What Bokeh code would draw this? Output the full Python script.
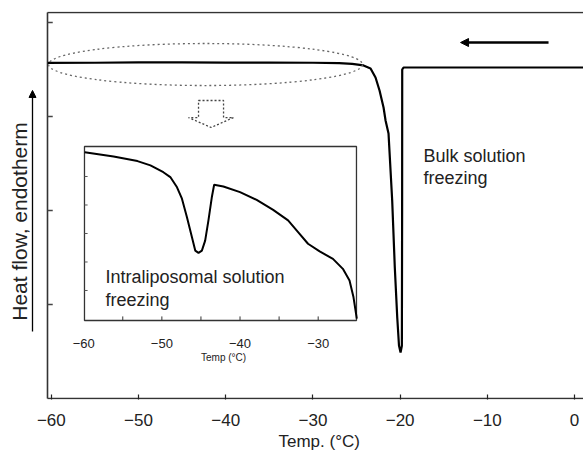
import math
from bokeh.plotting import figure
from bokeh.models import Range1d, Label, Arrow, NormalHead, FixedTicker, Title
from bokeh.embed import file_html
from bokeh.resources import INLINE
from bokeh.core.properties import value

# ---------------- data ----------------
# Main DSC cooling trace (Temp °C, heat flow arbitrary units)
main_temp = [-60.4, -55.0, -50.0, -45.0, -40.0, -35.0, -30.0, -27.0, -25.5, -24.2,
             -23.39, -22.82, -22.36, -21.90, -21.67, -21.33, -20.91, -20.61, -20.33,
             -20.13, -19.95, -19.80, -19.77, -19.76, -19.61, -10.0, 1.1]
main_heat = [3.570, 3.572, 3.575, 3.575, 3.574, 3.573, 3.572, 3.568, 3.560, 3.543,
             3.511, 3.415, 3.277, 3.096, 2.957, 2.819, 2.106, 1.394, 0.862,
             0.564, 0.489, 0.560, 2.000, 3.500, 3.521, 3.521, 3.521]

# Inset (intraliposomal freezing) trace
inset_temp = [-59.87, -56.18, -53.12, -51.46, -49.81, -48.92, -48.06, -47.43, -46.79,
              -46.15, -45.73, -45.31, -44.88, -44.46, -44.04, -43.61, -43.31, -42.13,
              -40.00, -37.87, -35.76, -33.85, -32.57, -31.30, -29.81, -28.11, -26.84,
              -25.99, -25.48, -25.06]
inset_heat = [5.85, 5.70, 5.54, 5.39, 5.15, 4.98, 4.62, 4.22, 3.57,
              2.87, 2.40, 2.32, 2.40, 2.75, 3.46, 4.27, 4.71, 4.65,
              4.45, 4.18, 3.83, 3.46, 3.05, 2.64, 2.37, 2.11, 1.76,
              1.35, 0.76, 0.01]

main_ticks = [-60, -50, -40, -30, -20, -10, 0]
main_tick_labels = ["\u221260", "\u221250", "\u221240", "\u221230", "\u221220", "\u221210", "0"]
main_y_ticks = [1, 2, 3, 4]

inset_ticks = [-55, -50, -45, -40, -35, -30]
inset_label_vals = [-60, -50, -40, -30]
inset_tick_labels = ["\u221260", "\u221250", "\u221240", "\u221230"]
inset_y_ticks = [1, 2, 3, 4, 5]

FONT = "Liberation Sans"

# plot box limits (data units)
X0, X1 = -60.44, 1.03
Y0, Y1 = 0.0, 4.106

# ---------------- figure ----------------
# frame spans the full width so that the y label / arrow can be drawn inside it
p = figure(width=583, height=458, output_backend="svg", toolbar_location=None,
           x_range=Range1d(-65.83, 1.03), y_range=Range1d(-0.0106, 4.117),
           min_border_left=0, min_border_right=0, min_border_top=11, min_border_bottom=59)
p.background_fill_color = "white"
p.border_fill_color = "white"
p.outline_line_color = None
p.xgrid.visible = False
p.ygrid.visible = False

# inset coordinate system mapped onto the frame
p.extra_x_ranges = {"ix": Range1d(-70.645, 3.946)}
p.extra_y_ranges = {"iy": Range1d(-2.8246, 10.789)}

# x axis (ticks + labels), axis line drawn as part of the box
xa = p.xaxis[0]
xa.ticker = FixedTicker(ticks=main_ticks)
xa.major_label_overrides = {t: l for t, l in zip(main_ticks, main_tick_labels)}
xa.major_label_text_font = FONT
xa.major_label_text_font_size = "17px"
xa.major_label_text_color = "#222222"
xa.major_label_standoff = 14
xa.major_tick_in = 5
xa.major_tick_out = 0
xa.minor_tick_line_color = None
xa.axis_line_color = None
xa.major_tick_line_color = "#222222"
xa.major_tick_line_width = 1.2
p.add_layout(Title(text="Temp. (\u00b0C)", align="left", offset=278, standoff=2,
                   text_font=FONT, text_font_size="17px", text_font_style="normal",
                   text_color="#222222"), "below")
p.yaxis.visible = False

# plot box: left, top, bottom lines
p.segment(x0=[X0, X0, X0], y0=[Y0, Y1, Y0], x1=[X0, X1, X1], y1=[Y1, Y1, Y0],
          line_color="#333333", line_width=1.6)
# y ticks (inward)
p.segment(x0=[X0] * len(main_y_ticks), y0=main_y_ticks,
          x1=[X0 + 0.6] * len(main_y_ticks), y1=main_y_ticks,
          line_color="#444444", line_width=1.3)

# y label and arrow
p.add_layout(Arrow(end=NormalHead(size=7, fill_color="black", line_color="black"),
                   x_start=-62.16, y_start=0.713, x_end=-62.16, y_end=3.277,
                   line_width=1.3, line_color="black"))
p.add_layout(Label(x=-63.62, y=1.883, text="Heat flow, endotherm", angle=math.pi / 2,
                   text_align="center", text_baseline="middle",
                   text_font=FONT, text_font_size="21px", text_color="#222222"))

# main trace
p.line(main_temp, main_heat, line_color="black", line_width=2.2)

# dotted ellipse around the plateau
p.ellipse(x=[-42.32], y=[3.553], width=[36.0], height=[0.447],
          fill_color=None, line_color="#666666", line_dash="2 3", line_width=1.3)

# dotted block arrow pointing to inset
bx = [-43.12, -40.25, -40.25, -39.11, -41.67, -44.27, -43.12]
by = [3.170, 3.170, 2.989, 2.989, 2.883, 2.989, 2.989]
p.patch(bx, by, fill_color=None, line_color="#444444", line_dash="2 2", line_width=1.3)

# cooling direction arrow
p.add_layout(Arrow(end=NormalHead(size=8, fill_color="black", line_color="black"),
                   x_start=-2.98, y_start=3.787, x_end=-13.07, y_end=3.787,
                   line_width=2.5, line_color="black"))

# bulk text
p.add_layout(Label(x=-17.32, y=2.585, text="Bulk solution", text_baseline="alphabetic",
                   text_font=FONT, text_font_size="18px", text_color="#222222"))
p.add_layout(Label(x=-17.32, y=2.351, text="freezing", text_baseline="alphabetic",
                   text_font=FONT, text_font_size="18px", text_color="#222222"))

# ---------------- inset ----------------
p.quad(left=[-59.9], right=[-25.1], bottom=[-0.053], top=[6.053],
       x_range_name="ix", y_range_name="iy",
       fill_color="white", line_color="#333333", line_width=1.3)
p.segment(x0=inset_ticks, y0=[-0.053] * len(inset_ticks), x1=inset_ticks,
          y1=[0.09] * len(inset_ticks), x_range_name="ix", y_range_name="iy",
          line_color="#333333", line_width=1)
p.segment(x0=[-59.9] * len(inset_y_ticks), y0=inset_y_ticks, x1=[-59.5] * len(inset_y_ticks),
          y1=inset_y_ticks, x_range_name="ix", y_range_name="iy",
          line_color="#555555", line_width=1)
p.text(x=inset_label_vals, y=[-0.86] * len(inset_label_vals), text=inset_tick_labels,
       x_range_name="ix", y_range_name="iy", text_align="center", text_baseline="middle",
       text_font=value(FONT), text_font_size="13px", text_color="#222222")
p.text(x=[-42.1], y=[-1.36], text=["Temp (\u00b0C)"], x_range_name="ix", y_range_name="iy",
       text_align="center", text_baseline="middle",
       text_font=value(FONT), text_font_size="10px", text_color="#222222")
p.line(inset_temp, inset_heat, x_range_name="ix", y_range_name="iy",
       line_color="black", line_width=2)
p.add_layout(Label(x=-57.21, y=1.456, x_range_name="ix", y_range_name="iy",
                   text="Intraliposomal solution", text_baseline="alphabetic",
                   text_font=FONT, text_font_size="18px", text_color="#222222"))
p.add_layout(Label(x=-57.21, y=0.649, x_range_name="ix", y_range_name="iy",
                   text="freezing", text_baseline="alphabetic",
                   text_font=FONT, text_font_size="18px", text_color="#222222"))

open("out.html", "w").write(file_html(p, INLINE))
